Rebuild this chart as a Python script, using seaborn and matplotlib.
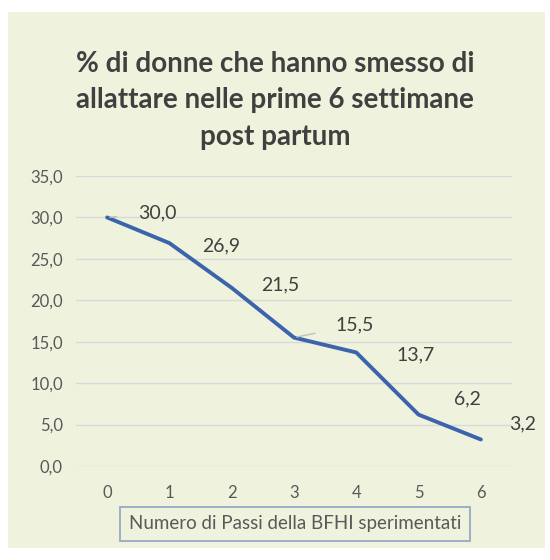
import matplotlib
matplotlib.use("Agg")
import matplotlib.pyplot as plt
import seaborn as sns
import pandas as pd
from matplotlib.patches import Rectangle
from matplotlib.ticker import FuncFormatter

passi = [0, 1, 2, 3, 4, 5, 6]
percentuali = [30.0, 26.9, 21.5, 15.5, 13.7, 6.2, 3.2]
titolo = "% di donne che hanno smesso di\nallattare nelle prime 6 settimane\npost partum"
etichetta_x = "Numero di Passi della BFHI sperimentati"

df = pd.DataFrame({"passi": passi, "perc": percentuali})

sns.set_theme(style="white")
plt.rcParams['font.family'] = ['Lato', 'DejaVu Sans']

bg = "#EFF3DD"
grey = "#595959"
fig = plt.figure(figsize=(5.5, 5.6), dpi=100, facecolor="white")
fig.patches.append(Rectangle((8/550, 12/560), 537/550, 536/560, transform=fig.transFigure,
                             facecolor=bg, edgecolor="none", zorder=-10))

ax = fig.add_axes([76/550, 1-466/560, 436/550, 290/560])
ax.set_zorder(2)
ax.set_facecolor("none")
sns.lineplot(data=df, x="passi", y="perc", ax=ax, color="#3B64AD", linewidth=2.8, zorder=3)

ax.set_xlim(-0.5, 6.5)
ax.set_ylim(0, 35)
ax.set_xticks(passi)
ax.set_yticks([0, 5, 10, 15, 20, 25, 30, 35])
ax.yaxis.set_major_formatter(FuncFormatter(lambda v, p: f"{v:.1f}".replace(".", ",")))
ax.grid(axis="y", color="#D9D9D9", linewidth=1)
ax.grid(axis="x", visible=False)
for s in ax.spines.values():
    s.set_visible(False)
ax.tick_params(axis="both", length=0, labelsize=12, labelcolor=grey)
ax.tick_params(axis="y", pad=9.5)
ax.tick_params(axis="x", pad=14)
ax.set_xlabel("")
ax.set_ylabel("")

offsets = [(36, 3), (37, -2), (35, 2), (44, 9), (43, -2), (35, 11), (30, 11)]
leaders = [True, False, False, True, False, False, False]
for x, y, (dx, dy), lead in zip(passi, percentuali, offsets, leaders):
    kw = {}
    if lead:
        kw["arrowprops"] = dict(arrowstyle="-", color="#BFBFBF", lw=1,
                                shrinkA=13, shrinkB=2)
    ax.annotate(f"{y:.1f}".replace(".", ","), xy=(x, y), xytext=(dx, dy),
                textcoords="offset points", ha="center", va="center",
                fontsize=14, color="#404040", **kw)

fig.text(275/550, 1-100/560, titolo, ha="center", va="center", fontsize=20,
         fontweight="bold", color="#404040", linespacing=1.5)

fig.text(295/550, 1-524/560, etichetta_x, ha="center", va="center", fontsize=13.5,
         color=grey,
         bbox=dict(boxstyle="square,pad=0.45", facecolor="none", edgecolor="#8EA2C4", lw=1.2))

fig.savefig("out.png", dpi=100, facecolor="white")
